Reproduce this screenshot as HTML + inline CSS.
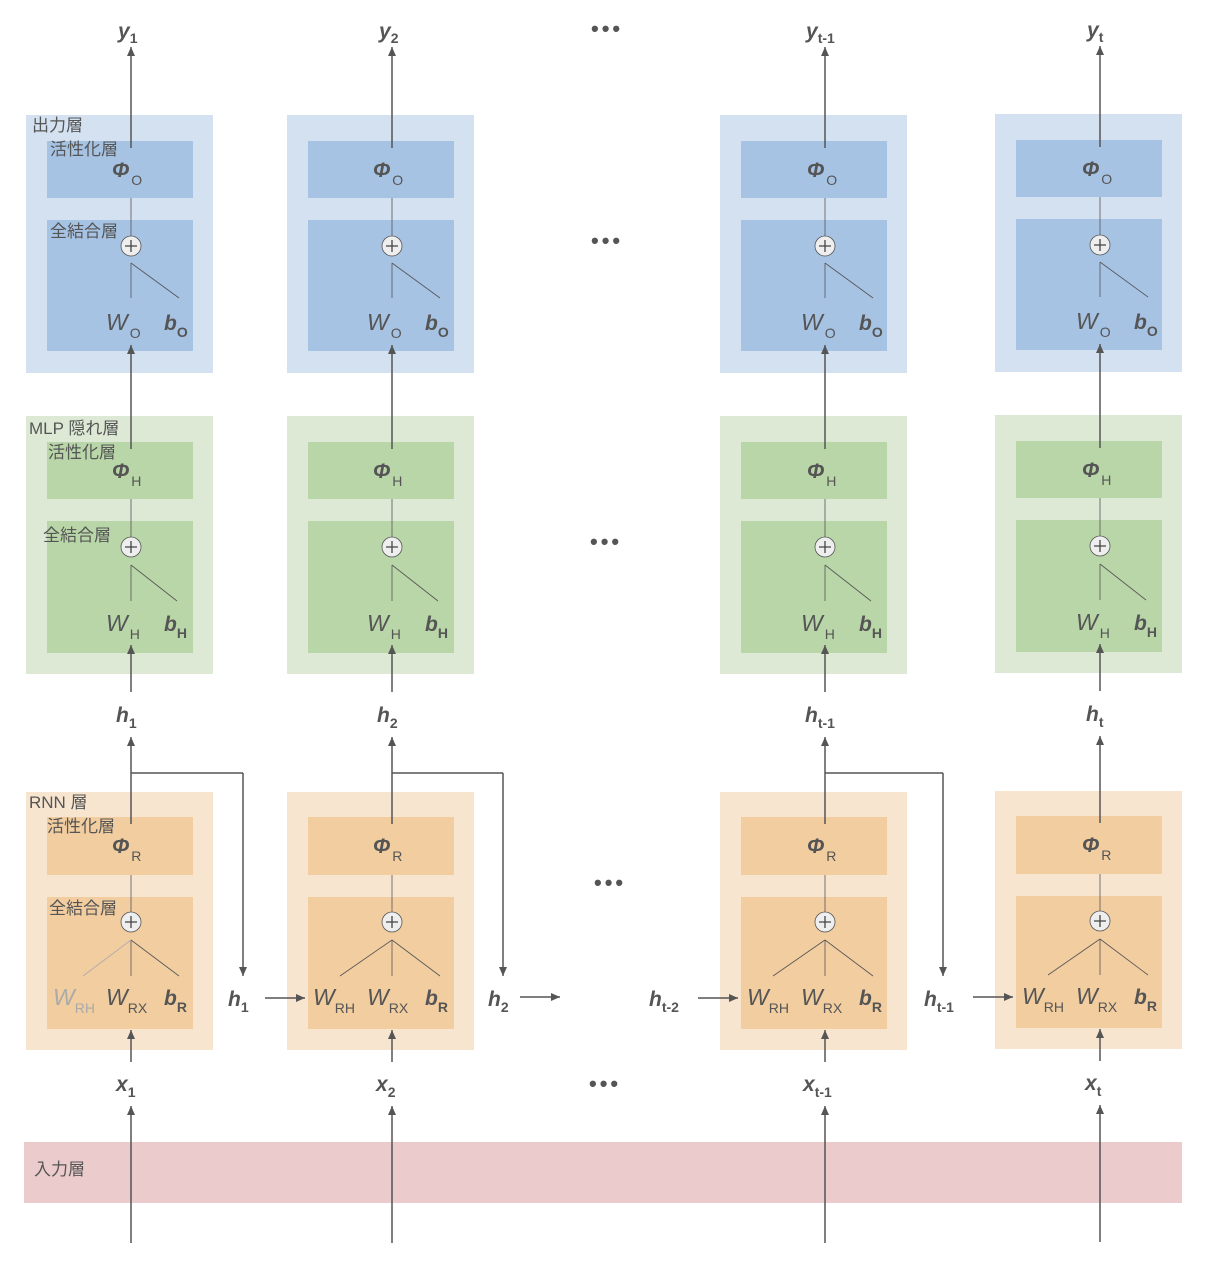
<!DOCTYPE html>
<html><head><meta charset="utf-8"><style>
html,body{margin:0;padding:0;background:#fff}
svg{display:block}
text{font-family:"Liberation Sans","Noto Sans CJK JP",sans-serif;fill:#555}
.v{font-style:italic;font-weight:bold;font-size:21px}
.w{font-style:italic;font-size:23px}
.s{font-size:14px;font-style:normal;font-weight:normal}
.sb{font-size:14px;font-style:normal;font-weight:bold}
.j{font-size:17px}
.d{font-size:22px;font-weight:bold;letter-spacing:3px}
</style></head><body>
<svg width="1210" height="1274" viewBox="0 0 1210 1274" xmlns="http://www.w3.org/2000/svg">
<defs>
<marker id="a" markerUnits="userSpaceOnUse" markerWidth="10" markerHeight="10" refX="9" refY="5" orient="auto"><path d="M0,1 L9,5 L0,9 z" fill="#555"/></marker>
<g id="col">
 <rect x="0" y="115" width="187" height="258" fill="#d4e1f1"/>
 <rect x="21" y="141" width="146" height="57" fill="#a7c3e4"/>
 <rect x="21" y="220" width="146" height="131" fill="#a7c3e4"/>
 <rect x="0" y="416" width="187" height="258" fill="#dde9d5"/>
 <rect x="21" y="442" width="146" height="57" fill="#b9d6a8"/>
 <rect x="21" y="521" width="146" height="132" fill="#b9d6a8"/>
 <rect x="0" y="792" width="187" height="258" fill="#f8e5d0"/>
 <rect x="21" y="817" width="146" height="58" fill="#f2cda0"/>
 <rect x="21" y="897" width="146" height="132" fill="#f2cda0"/>
 <g stroke="#555" fill="none">
  <line x1="105" y1="148" x2="105" y2="47" stroke-width="1.5" marker-end="url(#a)"/>
  <line x1="105" y1="449" x2="105" y2="345" stroke-width="1.5" marker-end="url(#a)"/>
  <line x1="105" y1="692" x2="105" y2="645" stroke-width="1.5" marker-end="url(#a)"/>
  <line x1="105" y1="824" x2="105" y2="737" stroke-width="1.5" marker-end="url(#a)"/>
  <line x1="105" y1="1062" x2="105" y2="1030" stroke-width="1.5" marker-end="url(#a)"/>
  <line x1="105" y1="1243" x2="105" y2="1106" stroke-width="1.5" marker-end="url(#a)"/>
  <line x1="105" y1="198" x2="105" y2="236" stroke-width="0.8"/>
  <line x1="105" y1="263" x2="105" y2="298" stroke-width="0.8"/>
  <line x1="105" y1="263" x2="153" y2="298" stroke-width="0.8"/>
  <line x1="105" y1="499" x2="105" y2="537" stroke-width="0.8"/>
  <line x1="105" y1="565" x2="105" y2="601" stroke-width="0.8"/>
  <line x1="105" y1="565" x2="151" y2="601" stroke-width="0.8"/>
  <line x1="105" y1="875" x2="105" y2="912" stroke-width="0.8"/>
  <line x1="105" y1="940" x2="105" y2="976" stroke-width="0.8"/>
  <line x1="105" y1="940" x2="153" y2="976" stroke-width="0.8"/>
 </g>
 <g stroke="#555" stroke-width="0.8">
  <circle cx="105" cy="246" r="10" fill="#eee"/>
  <circle cx="105" cy="547" r="10" fill="#eee"/>
  <circle cx="105" cy="922" r="10" fill="#eee"/>
 </g>
 <g stroke="#444" stroke-width="1.3">
  <path d="M99,246 H111 M105,240 V252"/>
  <path d="M99,547 H111 M105,541 V553"/>
  <path d="M99,922 H111 M105,916 V928"/>
 </g>
</g>
</defs>

<rect x="24" y="1142" width="1158" height="61" fill="#ebcbcb"/>
<text x="34" y="1175" class="j">入力層</text>

<g transform="translate(26,0)"><use href="#col"/>
 <line x1="105" y1="940" x2="57" y2="976" stroke="#aaa" stroke-width="0.8"/>
 <line x1="105" y1="773" x2="217" y2="773" stroke="#555" stroke-width="1.5"/>
 <line x1="217" y1="773" x2="217" y2="976" stroke="#555" stroke-width="1.5" marker-end="url(#a)"/>
</g>
<g transform="translate(287,0)"><use href="#col"/>
 <line x1="105" y1="940" x2="53" y2="976" stroke="#555" stroke-width="0.8"/>
 <line x1="105" y1="773" x2="216" y2="773" stroke="#555" stroke-width="1.5"/>
 <line x1="216" y1="773" x2="216" y2="976" stroke="#555" stroke-width="1.5" marker-end="url(#a)"/>
</g>
<g transform="translate(720,0)"><use href="#col"/>
 <line x1="105" y1="940" x2="53" y2="976" stroke="#555" stroke-width="0.8"/>
 <line x1="105" y1="773" x2="223" y2="773" stroke="#555" stroke-width="1.5"/>
 <line x1="223" y1="773" x2="223" y2="976" stroke="#555" stroke-width="1.5" marker-end="url(#a)"/>
</g>
<g transform="translate(995,-1)"><use href="#col"/>
 <line x1="105" y1="940" x2="53" y2="976" stroke="#555" stroke-width="0.8"/>
</g>

<g stroke="#555" stroke-width="1.5">
<line x1="265" y1="998" x2="305" y2="998" marker-end="url(#a)"/>
<line x1="520" y1="997" x2="560" y2="997" marker-end="url(#a)"/>
<line x1="698" y1="998" x2="738" y2="998" marker-end="url(#a)"/>
<line x1="973" y1="997" x2="1013" y2="997" marker-end="url(#a)"/>
</g>

<text x="32" y="131" class="j">出力層</text>
<text x="50" y="155" class="j">活性化層</text>
<text x="50" y="237" class="j">全結合層</text>
<text x="29" y="434" class="j">MLP 隠れ層</text>
<text x="48" y="458" class="j">活性化層</text>
<text x="43" y="541" class="j">全結合層</text>
<text x="29" y="808" class="j">RNN 層</text>
<text x="47" y="832" class="j">活性化層</text>
<text x="49" y="914" class="j">全結合層</text>

<text x="591" y="36" class="d">•••</text>
<text x="591" y="248" class="d">•••</text>
<text x="590" y="549" class="d">•••</text>
<text x="594" y="890" class="d">•••</text>
<text x="589" y="1091" class="d">•••</text>

<text x="118" y="38" class="v">y<tspan class="sb" dy="5">1</tspan></text>
<text x="112" y="177" class="v">Φ<tspan class="s" dx="2" dy="8">O</tspan></text>
<text x="106" y="330" class="w">W<tspan class="s" dx="2" dy="8">O</tspan></text>
<text x="164" y="330" class="v">b<tspan class="sb" dy="7">O</tspan></text>
<text x="112" y="478" class="v">Φ<tspan class="s" dx="2" dy="8">H</tspan></text>
<text x="106" y="631" class="w">W<tspan class="s" dx="2" dy="8">H</tspan></text>
<text x="164" y="631" class="v">b<tspan class="sb" dy="7">H</tspan></text>
<text x="116" y="722" class="v">h<tspan class="sb" dy="6">1</tspan></text>
<text x="112" y="853" class="v">Φ<tspan class="s" dx="2" dy="8">R</tspan></text>
<text x="53" y="1005" class="w" style="fill:#aaa">W<tspan class="s" style="fill:#aaa" dy="8">RH</tspan></text>
<text x="106" y="1005" class="w">W<tspan class="s" dy="8">RX</tspan></text>
<text x="164" y="1005" class="v">b<tspan class="sb" dy="7">R</tspan></text>
<text x="116" y="1091" class="v">x<tspan class="sb" dy="6">1</tspan></text>
<text x="228" y="1006" class="v">h<tspan class="sb" dy="6">1</tspan></text>

<text x="379" y="38" class="v">y<tspan class="sb" dy="5">2</tspan></text>
<text x="373" y="177" class="v">Φ<tspan class="s" dx="2" dy="8">O</tspan></text>
<text x="367" y="330" class="w">W<tspan class="s" dx="2" dy="8">O</tspan></text>
<text x="425" y="330" class="v">b<tspan class="sb" dy="7">O</tspan></text>
<text x="373" y="478" class="v">Φ<tspan class="s" dx="2" dy="8">H</tspan></text>
<text x="367" y="631" class="w">W<tspan class="s" dx="2" dy="8">H</tspan></text>
<text x="425" y="631" class="v">b<tspan class="sb" dy="7">H</tspan></text>
<text x="377" y="722" class="v">h<tspan class="sb" dy="6">2</tspan></text>
<text x="373" y="853" class="v">Φ<tspan class="s" dx="2" dy="8">R</tspan></text>
<text x="313" y="1005" class="w">W<tspan class="s" dy="8">RH</tspan></text>
<text x="367" y="1005" class="w">W<tspan class="s" dy="8">RX</tspan></text>
<text x="425" y="1005" class="v">b<tspan class="sb" dy="7">R</tspan></text>
<text x="376" y="1091" class="v">x<tspan class="sb" dy="6">2</tspan></text>
<text x="488" y="1006" class="v">h<tspan class="sb" dy="6">2</tspan></text>

<text x="806" y="38" class="v">y<tspan class="sb" dy="5">t-1</tspan></text>
<text x="807" y="177" class="v">Φ<tspan class="s" dx="2" dy="8">O</tspan></text>
<text x="801" y="330" class="w">W<tspan class="s" dx="2" dy="8">O</tspan></text>
<text x="859" y="330" class="v">b<tspan class="sb" dy="7">O</tspan></text>
<text x="807" y="478" class="v">Φ<tspan class="s" dx="2" dy="8">H</tspan></text>
<text x="801" y="631" class="w">W<tspan class="s" dx="2" dy="8">H</tspan></text>
<text x="859" y="631" class="v">b<tspan class="sb" dy="7">H</tspan></text>
<text x="805" y="722" class="v">h<tspan class="sb" dy="6">t-1</tspan></text>
<text x="807" y="853" class="v">Φ<tspan class="s" dx="2" dy="8">R</tspan></text>
<text x="747" y="1005" class="w">W<tspan class="s" dy="8">RH</tspan></text>
<text x="801" y="1005" class="w">W<tspan class="s" dy="8">RX</tspan></text>
<text x="859" y="1005" class="v">b<tspan class="sb" dy="7">R</tspan></text>
<text x="803" y="1091" class="v">x<tspan class="sb" dy="6">t-1</tspan></text>
<text x="649" y="1006" class="v">h<tspan class="sb" dy="6">t-2</tspan></text>
<text x="924" y="1006" class="v">h<tspan class="sb" dy="6">t-1</tspan></text>

<text x="1087" y="37" class="v">y<tspan class="sb" dy="5">t</tspan></text>
<text x="1082" y="176" class="v">Φ<tspan class="s" dx="2" dy="8">O</tspan></text>
<text x="1076" y="329" class="w">W<tspan class="s" dx="2" dy="8">O</tspan></text>
<text x="1134" y="329" class="v">b<tspan class="sb" dy="7">O</tspan></text>
<text x="1082" y="477" class="v">Φ<tspan class="s" dx="2" dy="8">H</tspan></text>
<text x="1076" y="630" class="w">W<tspan class="s" dx="2" dy="8">H</tspan></text>
<text x="1134" y="630" class="v">b<tspan class="sb" dy="7">H</tspan></text>
<text x="1086" y="721" class="v">h<tspan class="sb" dy="6">t</tspan></text>
<text x="1082" y="852" class="v">Φ<tspan class="s" dx="2" dy="8">R</tspan></text>
<text x="1022" y="1004" class="w">W<tspan class="s" dy="8">RH</tspan></text>
<text x="1076" y="1004" class="w">W<tspan class="s" dy="8">RX</tspan></text>
<text x="1134" y="1004" class="v">b<tspan class="sb" dy="7">R</tspan></text>
<text x="1085" y="1090" class="v">x<tspan class="sb" dy="6">t</tspan></text>
</svg>
</body></html>
